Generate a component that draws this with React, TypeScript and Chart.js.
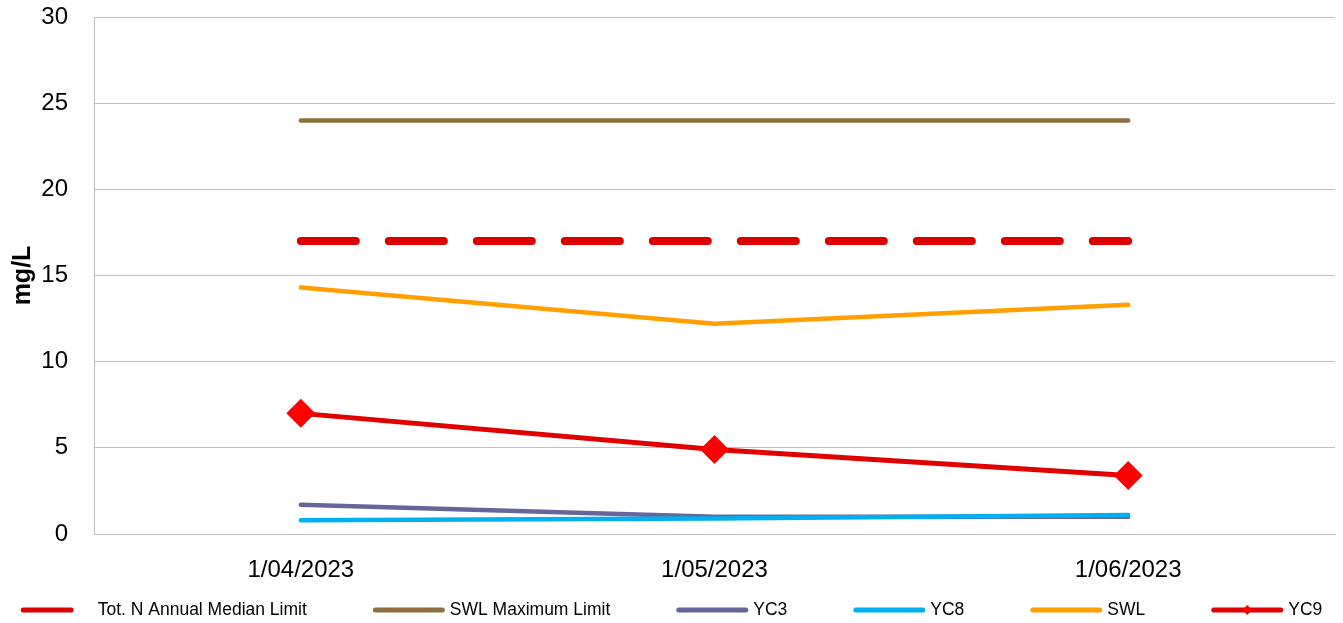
import React, { useEffect, useRef } from 'react';
import { Chart, registerables } from 'chart.js';

Chart.register(...registerables);

const categories = ['1/04/2023', '1/05/2023', '1/06/2023'];
const totNLimit = [17, 17, 17];
const swlMaxLimit = [24, 24, 24];
const yc3 = [1.7, 1.0, 1.0];
const yc8 = [0.8, 0.9, 1.1];
const swl = [14.3, 12.2, 13.3];
const yc9 = [7.0, 4.9, 3.4];
const seriesLabels = ['Tot. N Annual Median Limit', 'SWL Maximum Limit', 'YC3', 'YC8', 'SWL', 'YC9'];
const yMin = 0;
const yMax = 30;
const yStep = 5;

const FONT = '"Liberation Sans", Arial, sans-serif';
const GRID = '#BFBFBF';

const legendPlugin = {
  id: 'excelLegend',
  afterDraw(chart: any) {
    const ctx = chart.ctx as CanvasRenderingContext2D;
    ctx.save();
    ctx.font = `17.5px ${FONT}`;
    const sample = 72;
    const textGap = 5;
    const itemGap = 66;
    const items = chart.data.datasets.map((ds: any) => ({
      ds,
      w: sample + textGap + ctx.measureText(ds.label).width,
    }));
    const total = items.reduce((a: number, b: any) => a + b.w, 0) + itemGap * (items.length - 1);
    let x = (chart.width - total) / 2;
    const y = 610;
    items.forEach(({ ds, w }: any) => {
      ctx.strokeStyle = ds.borderColor;
      ctx.lineWidth = 5;
      ctx.lineCap = 'round';
      ctx.setLineDash(ds.borderDash && ds.borderDash.length ? [48, 200] : []);
      ctx.beginPath();
      ctx.moveTo(x + 2.5, y);
      ctx.lineTo(x + sample - 2.5, y);
      ctx.stroke();
      ctx.setLineDash([]);
      if (ds.pointRadius > 0) {
        const cx = x + sample / 2;
        const r = 5;
        ctx.fillStyle = ds.pointBackgroundColor;
        ctx.beginPath();
        ctx.moveTo(cx, y - r);
        ctx.lineTo(cx + r, y);
        ctx.lineTo(cx, y + r);
        ctx.lineTo(cx - r, y);
        ctx.closePath();
        ctx.fill();
      }
      ctx.fillStyle = '#000';
      ctx.textBaseline = 'middle';
      ctx.textAlign = 'left';
      ctx.fillText(ds.label, x + sample + textGap, y);
      x += w + itemGap;
    });
    ctx.restore();
  },
};

export default function App() {
  const canvasRef = useRef<HTMLCanvasElement | null>(null);

  useEffect(() => {
    document.body.style.margin = '0';
    const canvas = canvasRef.current;
    if (!canvas) return;
    const line = (label: string, data: number[], color: string, order: number, extra: any = {}) => ({
      label,
      data,
      borderColor: color,
      backgroundColor: color,
      borderWidth: 4.5,
      borderCapStyle: 'round',
      borderJoinStyle: 'round',
      pointRadius: 0,
      pointHoverRadius: 0,
      tension: 0,
      fill: false,
      order,
      ...extra,
    });
    const chart = new Chart(canvas, {
      type: 'line',
      data: {
        labels: categories,
        datasets: [
          line(seriesLabels[0], totNLimit, '#DD0000', 5, { borderWidth: 8, borderDash: [55, 33], borderCapStyle: 'round' }),
          line(seriesLabels[1], swlMaxLimit, '#8F703C', 4),
          line(seriesLabels[2], yc3, '#66669A', 3),
          line(seriesLabels[3], yc8, '#00B0F0', 2),
          line(seriesLabels[4], swl, '#FF9F00', 1),
          line(seriesLabels[5], yc9, '#E00000', 0, {
            borderWidth: 5,
            pointRadius: 14.5,
            pointStyle: 'rectRot',
            pointBackgroundColor: '#FF0000',
            pointBorderColor: '#FF0000',
            pointBorderWidth: 0,
          }),
        ],
      },
      options: {
        responsive: false,
        animation: false,
        events: [],
        layout: { autoPadding: false, padding: { left: 0, right: 8, top: 17, bottom: 40 } },
        plugins: {
          legend: { display: false },
          tooltip: { enabled: false },
          title: { display: false },
        },
        scales: {
          x: {
            offset: true,
            grid: { display: false },
            border: { display: true, color: GRID, width: 1 },
            ticks: { color: '#000', font: { family: FONT, size: 24 }, padding: 14, maxRotation: 0 },
            afterFit: (s: any) => {
              s.height = 49;
              s.paddingLeft = 0;
              s.paddingRight = 0;
            },
          },
          y: {
            min: yMin,
            max: yMax,
            ticks: { stepSize: yStep, color: '#000', font: { family: FONT, size: 24 }, padding: 26 },
            grid: { color: GRID, lineWidth: 1, drawTicks: false },
            border: { display: true, color: GRID, width: 1 },
            title: {
              display: true,
              text: 'mg/L',
              color: '#000',
              font: { family: FONT, size: 25, weight: 'bold' },
              padding: { top: 8, bottom: 0 },
            },
            afterFit: (s: any) => {
              s.width = 94;
              s.paddingTop = 0;
              s.paddingBottom = 0;
            },
          },
        },
      },
      plugins: [legendPlugin],
    } as any);
    return () => chart.destroy();
  }, []);

  return (
    <div style={{ position: 'absolute', left: 0, top: 0, width: 1343, height: 623 }}>
      <canvas ref={canvasRef} width={1343} height={623} style={{ display: 'block' }} />
    </div>
  );
}
